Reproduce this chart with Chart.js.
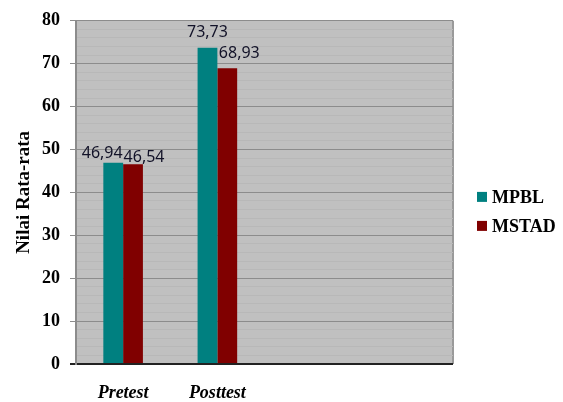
<!DOCTYPE html>
<html>
<head>
<meta charset="utf-8">
<script src="https://cdn.jsdelivr.net/npm/chart.js@4/dist/chart.umd.min.js"></script>
<style>
  html, body { margin: 0; padding: 0; background: #fff; }
  #wrap { width: 563px; height: 402px; }
</style>
</head>
<body>
<div id="wrap"><canvas id="chart" width="563" height="402"></canvas></div>
<script>
// data
const categories = ["Pretest", "Posttest", "", ""];
const mpblValues = [46.94, 73.73, null, null];
const mstadValues = [46.54, 68.93, null, null];
const valueLabels = [["46,94", "73,73"], ["46,54", "68,93"]];

// фон области построения + рамка справа
const plotBg = {
  id: "plotBg",
  beforeDraw(chart) {
    const { ctx, chartArea: a } = chart;
    ctx.save();
    ctx.fillStyle = "#c0c0c0";
    ctx.fillRect(a.left, a.top, a.right - a.left, a.bottom - a.top);
    ctx.strokeStyle = "#9a9a9a";
    ctx.lineWidth = 2;
    ctx.beginPath();
    ctx.moveTo(a.right, a.top);
    ctx.lineTo(a.right, a.bottom);
    ctx.stroke();
    ctx.restore();
  }
};

// подписи значений над столбцами (сдвиги чтобы не налезали)
const shifts = [[[-11, 5], [0, 11]], [[11, 2], [12, 10]]];
const barLabels = {
  id: "barLabels",
  afterDatasetsDraw(chart) {
    const ctx = chart.ctx;
    ctx.save();
    ctx.font = "16px 'Noto Sans'";
    ctx.fillStyle = "#121228";
    ctx.textAlign = "center";
    ctx.textBaseline = "alphabetic";
    chart.data.datasets.forEach((ds, di) => {
      chart.getDatasetMeta(di).data.forEach((bar, i) => {
        const txt = valueLabels[di][i];
        if (!txt) return;
        const [dx, dy] = shifts[di][i];
        ctx.fillText(txt, bar.x + dx, bar.y - dy);
      });
    });
    ctx.restore();
  }
};

// легенда справа
const sideLegend = {
  id: "sideLegend",
  afterDraw(chart) {
    const { ctx, chartArea: a } = chart;
    const x = a.right + 24;
    const mid = (a.top + chart.height) / 2;
    ctx.save();
    ctx.font = "bold 18px 'Liberation Serif'";
    ctx.textBaseline = "middle";
    chart.data.datasets.forEach((ds, i) => {
      const y = mid + (i - 0.5) * 29;
      ctx.fillStyle = ds.backgroundColor;
      ctx.fillRect(x, y - 5, 10, 10);
      ctx.fillStyle = "#000";
      ctx.fillText(ds.label, x + 15, y + 1);
    });
    ctx.restore();
  }
};

const isMajor = v => v % 10 === 0;

new Chart(document.getElementById("chart"), {
  type: "bar",
  data: {
    labels: categories,
    datasets: [
      { label: "MPBL", data: mpblValues, backgroundColor: "#008080" },
      { label: "MSTAD", data: mstadValues, backgroundColor: "#800000" }
    ]
  },
  options: {
    responsive: false,
    animation: false,
    layout: { padding: { top: 20, left: 6, right: 110, bottom: 0 } },
    datasets: { bar: { barPercentage: 1, categoryPercentage: 0.42, borderWidth: 0 } },
    plugins: {
      legend: { display: false },
      tooltip: { enabled: false }
    },
    scales: {
      x: {
        grid: { display: false, drawTicks: false },
        border: { display: false },
        afterFit: s => { s.height = 38; },
        ticks: {
          padding: 19,
          color: "#000",
          font: { family: "'Liberation Serif'", size: 18, weight: "bold", style: "italic" }
        }
      },
      y: {
        min: 0,
        max: 80,
        border: { color: "#8c8c8c", width: 2 },
        afterFit: s => { s.width = 70; },
        grid: {
          tickLength: 6,
          color: c => c.tick.value === 0 ? "#222" : (isMajor(c.tick.value) ? "#8c8c8c" : "#b8b8b8"),
          lineWidth: c => c.tick.value === 0 ? 2 : 1,
          tickColor: c => c.tick.value === 0 ? "#222" : (isMajor(c.tick.value) ? "#8c8c8c" : "rgba(0,0,0,0)")
        },
        ticks: {
          stepSize: 2,
          autoSkip: false,
          padding: 10,
          color: "#000",
          font: { family: "'Liberation Serif'", size: 18, weight: "bold" },
          callback: v => isMajor(v) ? v : ""
        },
        title: {
          display: true,
          text: "Nilai Rata-rata",
          color: "#000",
          padding: { top: 7, bottom: 6 },
          font: { family: "'Liberation Serif'", size: 19, weight: "bold" }
        }
      }
    }
  },
  plugins: [plotBg, barLabels, sideLegend]
});
</script>
</body>
</html>
